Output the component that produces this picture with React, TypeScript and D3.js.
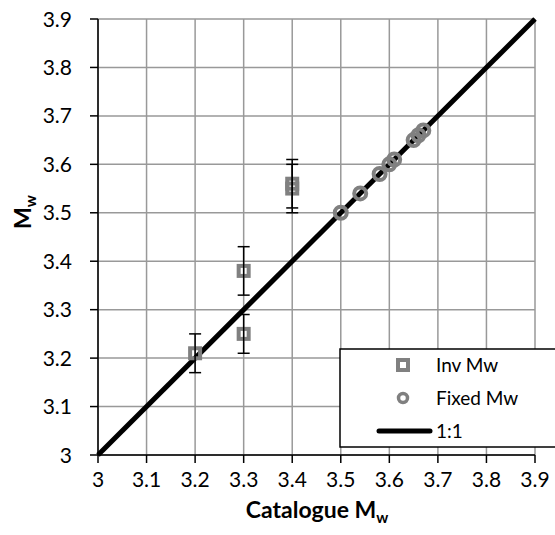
import React from "react";
import * as d3 from "d3";

const ticks = [3, 3.1, 3.2, 3.3, 3.4, 3.5, 3.6, 3.7, 3.8, 3.9];
const invX = [3.2, 3.3, 3.3, 3.4, 3.4];
const invY = [3.21, 3.38, 3.25, 3.56, 3.55];
const invErr = [0.04, 0.05, 0.04, 0.05, 0.05];
const fixedX = [3.5, 3.54, 3.58, 3.6, 3.61, 3.65, 3.66, 3.67];
const fixedY = [3.5, 3.54, 3.58, 3.6, 3.61, 3.65, 3.66, 3.67];
const oneToOne = [3, 3.9];
const legendLabels = ["Inv Mw", "Fixed Mw", "1:1"];

const W = 555, H = 535;
const left = 98, right = 535, top = 19, bottom = 455;
const FONT = "Lato, 'Open Sans', sans-serif";
const GRAY = "#808080";

export default function App() {
  const x = d3.scaleLinear().domain([3, 3.9]).range([left, right]);
  const y = d3.scaleLinear().domain([3, 3.9]).range([bottom, top]);
  const line = d3.line<number>().x((d) => x(d)).y((d) => y(d));

  return (
    <div style={{ position: "absolute", left: 0, top: 0 }}>
      <svg width={W} height={H} style={{ display: "block", background: "#fff" }}>
        {/* grid */}
        {ticks.map((t) => (
          <line key={"gx" + t} x1={x(t)} x2={x(t)} y1={top} y2={bottom} stroke="#999" strokeWidth={1.5} />
        ))}
        {ticks.map((t) => (
          <line key={"gy" + t} x1={left} x2={right} y1={y(t)} y2={y(t)} stroke="#999" strokeWidth={1.5} />
        ))}
        {/* axes */}
        <line x1={left} x2={left} y1={top} y2={bottom} stroke="#000" strokeWidth={1.5} />
        <line x1={left} x2={right} y1={bottom} y2={bottom} stroke="#000" strokeWidth={1.5} />
        {ticks.map((t) => (
          <line key={"tx" + t} x1={x(t)} x2={x(t)} y1={bottom} y2={bottom + 8} stroke="#000" strokeWidth={1.5} />
        ))}
        {ticks.map((t) => (
          <line key={"ty" + t} x1={left - 8} x2={left} y1={y(t)} y2={y(t)} stroke="#000" strokeWidth={1.5} />
        ))}
        {ticks.map((t) => (
          <text key={"lx" + t} x={x(t)} y={487} textAnchor="middle" fontFamily={FONT} fontSize={21} fill="#000">
            {String(t)}
          </text>
        ))}
        {ticks.map((t) => (
          <text key={"ly" + t} x={72} y={y(t)} dy="0.36em" textAnchor="end" fontFamily={FONT} fontSize={21} fill="#000">
            {String(t)}
          </text>
        ))}
        {/* titles */}
        <text x={317} y={518} textAnchor="middle" fontFamily={FONT} fontSize={23} fontWeight="bold" fill="#000">
          Catalogue M<tspan fontSize={15} dy={5}>w</tspan>
        </text>
        <text transform="translate(31,212) rotate(-90)" textAnchor="middle" fontFamily={FONT} fontSize={23} fontWeight="bold" fill="#000">
          M<tspan fontSize={15} dy={5}>w</tspan>
        </text>
        {/* 1:1 line */}
        <path d={line(oneToOne) || ""} stroke="#000" strokeWidth={5} fill="none" />
        {/* inv squares */}
        {invX.map((v, i) => (
          <rect key={"sq" + i} x={x(v) - 5} y={y(invY[i]) - 5} width={10} height={10} fill="none" stroke={GRAY} strokeWidth={4} />
        ))}
        {invX.map((v, i) => (
          <g key={"eb" + i} stroke="#000" strokeWidth={1.5}>
            <line x1={x(v)} x2={x(v)} y1={y(invY[i] - invErr[i])} y2={y(invY[i] + invErr[i])} />
            <line x1={x(v) - 6} x2={x(v) + 6} y1={y(invY[i] - invErr[i])} y2={y(invY[i] - invErr[i])} />
            <line x1={x(v) - 6} x2={x(v) + 6} y1={y(invY[i] + invErr[i])} y2={y(invY[i] + invErr[i])} />
          </g>
        ))}
        {/* fixed circles */}
        {fixedX.map((v, i) => (
          <circle key={"c" + i} cx={x(v)} cy={y(fixedY[i])} r={6} fill="none" stroke={GRAY} strokeWidth={4} />
        ))}
        {/* legend */}
        <rect x={340} y={349} width={230} height={98} fill="#fff" stroke="#000" strokeWidth={1.5} />
        <rect x={398} y={360} width={10} height={10} fill="none" stroke={GRAY} strokeWidth={4} />
        <circle cx={403} cy={398} r={4.5} fill="none" stroke={GRAY} strokeWidth={3.5} />
        <line x1={379} x2={430} y1={431} y2={431} stroke="#000" strokeWidth={5} strokeLinecap="round" />
        {legendLabels.map((l, i) => (
          <text key={l} x={436} y={365 + i * 33} dy="0.36em" fontFamily={FONT} fontSize={19} fill="#000">
            {l}
          </text>
        ))}
      </svg>
    </div>
  );
}
